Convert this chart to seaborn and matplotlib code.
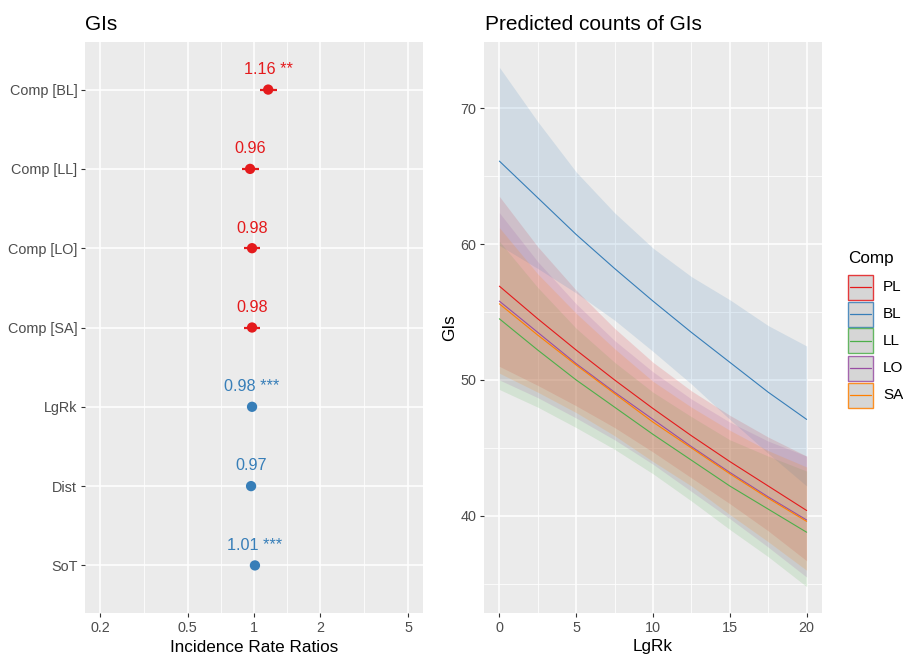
import matplotlib
matplotlib.use("Agg")
import matplotlib.pyplot as plt
import seaborn as sns
import pandas as pd
from matplotlib.patches import Rectangle
from matplotlib.lines import Line2D
from matplotlib.ticker import FixedLocator, NullFormatter, FixedFormatter

# ---------------- data ----------------
# Forest plot: incidence rate ratios
terms = ["Comp [BL]", "Comp [LL]", "Comp [LO]", "Comp [SA]", "LgRk", "Dist", "SoT"]
irr = [1.16, 0.96, 0.98, 0.98, 0.98, 0.97, 1.01]
ci_low = [1.065, 0.88, 0.90, 0.90, 0.975, 0.95, 1.005]
ci_high = [1.27, 1.05, 1.07, 1.07, 0.985, 0.995, 1.015]
stars = ["**", "", "", "", "***", "", "***"]
term_group = ["comp", "comp", "comp", "comp", "other", "other", "other"]

# Predicted counts by Comp over LgRk
lgrk = [0, 2.5, 5, 7.5, 10, 12.5, 15, 17.5, 20]
comp_levels = ["PL", "BL", "LL", "LO", "SA"]
fit_pl = [56.9, 54.5, 52.2, 50.0, 47.9, 45.9, 44.0, 42.2, 40.4]
low_pl = [51.0, 49.6, 48.1, 46.5, 44.7, 42.8, 40.9, 38.9, 36.7]
up_pl = [63.5, 59.8, 56.6, 53.8, 51.3, 49.2, 47.4, 45.8, 44.4]
fit_bl = [66.1, 63.4, 60.7, 58.2, 55.8, 53.5, 51.3, 49.1, 47.1]
low_bl = [59.9, 58.2, 56.4, 54.4, 52.1, 49.7, 47.1, 44.6, 42.2]
up_bl = [73.0, 69.0, 65.3, 62.3, 59.7, 57.6, 55.9, 54.0, 52.5]
fit_ll = [54.5, 52.2, 50.0, 48.0, 46.0, 44.1, 42.2, 40.5, 38.8]
low_ll = [49.3, 48.0, 46.5, 44.9, 43.1, 41.1, 39.0, 37.0, 34.8]
up_ll = [60.2, 56.8, 53.8, 51.3, 49.1, 47.3, 45.6, 44.4, 43.3]
fit_lo = [55.8, 53.5, 51.2, 49.1, 47.1, 45.1, 43.2, 41.4, 39.7]
low_lo = [50.0, 48.7, 47.2, 45.6, 43.8, 41.8, 39.8, 37.7, 35.5]
up_lo = [62.3, 58.7, 55.6, 52.9, 50.6, 48.6, 46.9, 45.5, 44.4]
fit_sa = [55.6, 53.3, 51.1, 49.0, 46.9, 45.0, 43.1, 41.3, 39.6]
low_sa = [50.5, 49.1, 47.6, 45.9, 44.0, 42.2, 40.1, 38.1, 36.0]
up_sa = [61.2, 57.8, 54.9, 52.3, 49.9, 48.0, 46.3, 44.8, 43.6]

# ---------------- style ----------------
RED, BLUE, GREEN, PURPLE, ORANGE = "#E41A1C", "#377EB8", "#4DAF4A", "#984EA3", "#FF7F00"
comp_colors = {"PL": RED, "BL": BLUE, "LL": GREEN, "LO": PURPLE, "SA": ORANGE}
term_colors = {"comp": RED, "other": BLUE}

sns.set_theme(style="darkgrid")
plt.rcParams["font.family"] = ["Liberation Sans", "DejaVu Sans"]
plt.rcParams["axes.facecolor"] = "#EBEBEB"
plt.rcParams["grid.color"] = "white"

TICK_COLOR = "#4D4D4D"
W, H = 904, 656
fig = plt.figure(figsize=(W / 100, H / 100), dpi=100)
fig.patch.set_facecolor("white")


def style_axes(ax):
    for s in ax.spines.values():
        s.set_visible(False)
    ax.set_axisbelow(True)
    ax.tick_params(which="major", length=3.0, width=0.8, color="#333333",
                   labelcolor=TICK_COLOR, labelsize=10.4, pad=2.5,
                   bottom=True, left=True)
    ax.tick_params(which="minor", length=0, bottom=False, left=False)
    ax.grid(which="major", color="white", linewidth=1.1)
    ax.grid(which="minor", color="white", linewidth=0.55)


# ---------------- left: forest plot ----------------
ax1 = fig.add_axes([85 / W, (H - 613) / H, 338 / W, 571 / H])
forest = pd.DataFrame({"term": terms, "irr": irr, "lo": ci_low, "hi": ci_high,
                       "stars": stars, "group": term_group,
                       "pos": range(len(terms))})
ax1.set_xscale("log")
ax1.set_xlim(0.171, 5.85)
ax1.set_ylim(len(terms) - 0.4, -0.6)
ax1.xaxis.set_major_locator(FixedLocator([0.2, 0.5, 1, 2, 5]))
ax1.xaxis.set_major_formatter(FixedFormatter(["0.2", "0.5", "1", "2", "5"]))
ax1.xaxis.set_minor_locator(FixedLocator([0.3162, 0.7071, 1.4142, 3.1623]))
ax1.xaxis.set_minor_formatter(NullFormatter())
ax1.set_yticks(list(forest["pos"]))
ax1.set_yticklabels(terms)
style_axes(ax1)

for _, r in forest.iterrows():
    ax1.plot([r["lo"], r["hi"]], [r["pos"], r["pos"]],
             color=term_colors[r["group"]], lw=1.6, solid_capstyle="butt", zorder=3)
sns.scatterplot(data=forest, x="irr", y="pos", hue="group", palette=term_colors,
                s=55, edgecolor="none", legend=False, ax=ax1, zorder=4)
for _, r in forest.iterrows():
    label = f"{r['irr']:.2f}" + (f" {r['stars']}" if r["stars"] else "")
    ax1.annotate(label, (r["irr"], r["pos"]), xytext=(0, 14.5), textcoords="offset points",
                 ha="center", va="center", fontsize=11.7,
                 color=term_colors[r["group"]], zorder=5)
ax1.set_xlabel("")
ax1.set_ylabel("")

# ---------------- right: predicted counts ----------------
ax2 = fig.add_axes([484 / W, (H - 613) / H, 338 / W, 571 / H])
series = {
    "PL": (fit_pl, low_pl, up_pl),
    "BL": (fit_bl, low_bl, up_bl),
    "LL": (fit_ll, low_ll, up_ll),
    "LO": (fit_lo, low_lo, up_lo),
    "SA": (fit_sa, low_sa, up_sa),
}
rows = []
for comp in comp_levels:
    f, lo, up = series[comp]
    ax2.fill_between(lgrk, lo, up, color=comp_colors[comp], alpha=0.15, lw=0, zorder=2)
    for xv, fv in zip(lgrk, f):
        rows.append({"LgRk": xv, "GIs": fv, "Comp": comp})
pred = pd.DataFrame(rows)
sns.lineplot(data=pred, x="LgRk", y="GIs", hue="Comp", hue_order=comp_levels,
             palette=comp_colors, lw=0.8, legend=False, ax=ax2, zorder=3)
ax2.set_xlim(-1, 21)
ax2.set_ylim(32.86, 74.86)
ax2.xaxis.set_major_locator(FixedLocator([0, 5, 10, 15, 20]))
ax2.xaxis.set_minor_locator(FixedLocator([2.5, 7.5, 12.5, 17.5]))
ax2.yaxis.set_major_locator(FixedLocator([40, 50, 60, 70]))
ax2.yaxis.set_minor_locator(FixedLocator([35, 45, 55, 65]))
ax2.xaxis.set_minor_formatter(NullFormatter())
ax2.yaxis.set_minor_formatter(NullFormatter())
style_axes(ax2)
ax2.set_xlabel("")
ax2.set_ylabel("")

# ---------------- titles and axis labels ----------------
fig.text(85 / W, 1 - 24 / H, "GIs", fontsize=15, ha="left", va="center", color="black")
fig.text(485 / W, 1 - 24 / H, "Predicted counts of GIs", fontsize=15, ha="left",
         va="center", color="black")
fig.text(254 / W, 1 - 647 / H, "Incidence Rate Ratios", fontsize=12.3, ha="center",
         va="center", color="black")
fig.text(653 / W, 1 - 647 / H, "LgRk", fontsize=12.3, ha="center", va="center",
         color="black")
fig.text(450 / W, 1 - 327.5 / H, "GIs", fontsize=12.3, rotation=90, ha="center",
         va="center", color="black")

# ---------------- legend (ggplot-style keys) ----------------
fig.text(848 / W, 1 - 258 / H, "Comp", fontsize=12.3, ha="left", va="center", color="black")
key_x, key_w, key_h, key_step, first_y = 848, 25, 25, 27, 287
for i, comp in enumerate(comp_levels):
    cy = first_y + i * key_step
    col = comp_colors[comp]
    fig.add_artist(Rectangle(((key_x) / W, 1 - (cy + key_h / 2) / H), key_w / W, key_h / H,
                             transform=fig.transFigure, facecolor="#CFCFCF",
                             edgecolor=col, lw=1.0, alpha=0.85))
    fig.add_artist(Line2D([(key_x + 2) / W, (key_x + key_w - 2) / W],
                          [1 - cy / H, 1 - cy / H], transform=fig.transFigure,
                          color=col, lw=0.9))
    fig.text(883 / W, 1 - cy / H, comp, fontsize=11, ha="left", va="center", color="black")

fig.savefig("out.png", dpi=100, facecolor="white")
